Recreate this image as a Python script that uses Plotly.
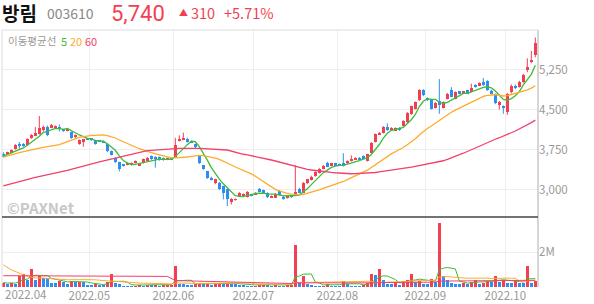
import plotly.graph_objects as go
import pandas as pd

# ---------------- data ----------------
month_labels = ["2022.04", "2022.05", "2022.06", "2022.07", "2022.08", "2022.09", "2022.10"]
month_start_idx = [1, 22, 43, 63, 84, 106, 126]

opens = [3660,3670,3690,3765,3860,3850,3830,3965,4010,4045,4110,4175,4170,4155,4175,4130,4100,4080,3985,3850,
         3890,3960,3950,3930,3920,3905,3860,3720,3590,3515,3465,3465,3460,3505,3450,3500,3535,3625,3615,3610,
         3590,3560,3590,3615,3910,3940,3955,3910,3850,3630,3455,3345,3220,3115,3130,3065,3005,2765,2805,2880,
         2880,2865,2910,2910,3015,2990,2940,2850,2850,2970,2865,2835,2890,2910,3015,2940,3120,3180,3255,3315,
         3390,3490,3455,3490,3475,3490,3490,3535,3565,3600,3625,3535,3690,3890,4035,4065,4180,4115,4115,4160,
         4200,4260,4410,4510,4680,4860,4715,4690,4530,4660,4530,4700,4860,4700,4840,4800,4860,4830,4965,4950,
         5015,5040,4855,4790,4590,4560,4450,4830,4950,4930,5020,5250,5390,5520]
highs = [3700,3710,3750,3850,3890,3870,3960,4040,4170,4380,4200,4200,4230,4200,4220,4140,4140,4090,4030,3940,
         3950,3970,3960,3935,3930,3920,3870,3730,3600,3520,3480,3505,3510,3545,3480,3580,3610,3640,3625,3620,
         3600,3600,3600,3970,4015,4065,3970,3920,3860,3640,3460,3350,3240,3200,3140,3070,3010,2840,2830,2950,
         2930,2970,2920,2950,3030,3000,2950,2890,2935,2990,2880,2890,2900,3455,3030,3140,3200,3260,3340,3400,
         3460,3520,3500,3500,3490,3680,3545,3640,3605,3610,3640,3670,3890,4050,4080,4190,4240,4170,4165,4170,
         4300,4450,4570,4650,4880,4880,4730,4700,4640,5070,4650,4810,4920,4840,4850,4850,4870,4985,4975,5010,
         5090,5050,4870,4800,4660,4580,4810,4970,4970,5040,5170,5460,5600,5850]
lows = [3605,3650,3680,3750,3760,3800,3820,3950,4000,4030,4090,4000,4150,4140,4090,4080,4090,3950,3960,3840,
        3800,3930,3910,3840,3895,3870,3700,3640,3500,3340,3430,3455,3450,3490,3440,3490,3525,3555,3410,3540,
        3540,3550,3550,3600,3900,3930,3880,3870,3770,3480,3370,3200,3170,3100,2990,2815,2690,2720,2790,2870,
        2870,2850,2870,2900,2945,2930,2840,2840,2840,2880,2810,2830,2840,2900,2930,2930,3100,3170,3240,3300,
        3380,3420,3440,3440,3445,3430,3480,3525,3555,3555,3570,3525,3680,3880,4020,4050,4100,4100,4100,4100,
        4180,4240,4400,4500,4660,4750,4660,4500,4520,4420,4520,4690,4730,4690,4790,4790,4790,4820,4910,4940,
        4945,4850,4790,4600,4500,4420,4400,4800,4880,4910,5000,5200,5370,5480]
closes = [3625,3690,3735,3830,3830,3810,3950,4025,4055,4150,4170,4020,4205,4190,4130,4090,4120,3965,4015,3925,
          3940,3945,3930,3850,3905,3880,3720,3655,3515,3390,3445,3495,3500,3535,3470,3565,3595,3565,3565,3550,
          3550,3590,3565,3830,3950,3970,3890,3880,3790,3490,3380,3220,3180,3190,3005,2940,2830,2830,2815,2940,
          2910,2955,2880,2940,2955,2940,2860,2880,2925,2890,2840,2880,2865,2955,2940,3130,3190,3240,3330,3380,
          3440,3430,3490,3455,3455,3440,3535,3565,3595,3565,3580,3660,3880,4035,4065,4180,4115,4160,4150,4115,
          4280,4440,4560,4640,4860,4770,4680,4510,4630,4590,4640,4800,4740,4830,4800,4840,4800,4900,4920,5000,
          4955,4860,4800,4620,4640,4520,4790,4950,4900,5020,5150,5300,5430,5740]
volumes = [260,190,260,190,650,760,420,1085,460,650,560,540,260,260,380,320,230,380,300,310,
           300,130,130,190,130,125,320,760,260,190,115,75,75,115,130,115,150,120,130,110,
           120,140,160,1217,230,190,150,130,200,250,180,200,150,180,210,200,250,200,180,170,
           120,110,100,110,130,150,120,110,120,110,100,120,130,2474,320,650,190,130,115,75,
           115,190,115,115,115,377,190,115,115,115,150,260,760,700,1050,420,230,190,260,130,
           380,420,760,320,380,230,230,510,320,3700,650,420,260,190,190,260,230,320,420,190,
           260,380,320,650,320,420,260,260,380,260,260,1217,260,400]  # thousands of shares

ma20_early_idx = [0, 4, 9, 14]
ma20_early_val = [3609, 3691, 3778, 3841]
ma60_early_idx = [0, 8, 16, 24, 32, 36, 44, 49, 56]
ma60_early_val = [3066, 3229, 3359, 3520, 3660, 3730, 3772, 3770, 3741]
vma20_early_idx = [0, 2, 5, 8, 10, 16]
vma20_early_val = [1270, 990, 700, 514, 514, 417]
vma60_early_idx = [0, 27, 41, 43, 50, 58]
vma60_early_val = [650, 640, 610, 370, 330, 300]

# ---------------- styling ----------------
W, H = 594, 304
ML, MR, MT, MB = 2, 56, 30, 17
PW, PH = W - ML - MR, H - MT - MB
RED = "#f23f52"
BLUE = "#2e8ef2"
C5, C20, C60 = "#3dbb3a", "#ffaa2c", "#f2416b"
GRID = "#eeeeee"
FONT = "Noto Sans CJK KR"


def pxx(x):
    return (x - ML) / PW


def pyy(y):
    return (H - MB - y) / PH


n = len(closes)
idx = list(range(n))
df = pd.DataFrame({"o": opens, "h": highs, "l": lows, "c": closes, "v": [v * 1000 for v in volumes]})
up = [c >= o for o, c in zip(opens, closes)]
# volume bars: red when volume rose versus the previous session, blue otherwise
vol_up = [True] + [volumes[i] > volumes[i - 1] for i in range(1, n)]


def ma_series(values, window, early_idx, early_val):
    s = pd.Series(values).rolling(window).mean()
    xs = list(early_idx) + [i for i in range(window - 1, len(values))]
    ys = list(early_val) + [s[i] for i in range(window - 1, len(values))]
    return xs, ys


fig = go.Figure()

# candle wicks
for flag, col in ((True, RED), (False, BLUE)):
    xs, ys = [], []
    for i in idx:
        if up[i] == flag:
            xs += [i, i, None]
            ys += [lows[i], highs[i], None]
    fig.add_trace(go.Scatter(x=xs, y=ys, mode="lines", line=dict(color=col, width=1),
                             hoverinfo="skip", showlegend=False, xaxis="x", yaxis="y"))

# candle bodies
body_base = [min(o, c) for o, c in zip(opens, closes)]
body_h = [max(abs(c - o), 16) for o, c in zip(opens, closes)]
fig.add_trace(go.Bar(x=idx, y=body_h, base=body_base, width=0.75,
                     marker=dict(color=[RED if u else BLUE for u in up], line=dict(width=0)),
                     showlegend=False, xaxis="x", yaxis="y"))

# price moving averages
ma5 = df["c"].rolling(5, min_periods=1).mean()
fig.add_trace(go.Scatter(x=idx, y=ma5, mode="lines", line=dict(color=C5, width=1.3),
                         showlegend=False, xaxis="x", yaxis="y"))
x20, y20 = ma_series(closes, 20, ma20_early_idx, ma20_early_val)
fig.add_trace(go.Scatter(x=x20, y=y20, mode="lines", line=dict(color=C20, width=1.3),
                         showlegend=False, xaxis="x", yaxis="y"))
x60, y60 = ma_series(closes, 60, ma60_early_idx, ma60_early_val)
fig.add_trace(go.Scatter(x=x60, y=y60, mode="lines", line=dict(color=C60, width=1.3),
                         showlegend=False, xaxis="x", yaxis="y"))

# volume
fig.add_trace(go.Bar(x=idx, y=df["v"], width=0.75,
                     marker=dict(color=[RED if u else BLUE for u in vol_up], line=dict(width=0)),
                     showlegend=False, xaxis="x2", yaxis="y2"))
vma5 = df["v"].rolling(5, min_periods=1).mean()
fig.add_trace(go.Scatter(x=idx, y=vma5, mode="lines", line=dict(color=C5, width=1),
                         showlegend=False, xaxis="x2", yaxis="y2"))
vx20, vy20 = ma_series(volumes, 20, vma20_early_idx, vma20_early_val)
fig.add_trace(go.Scatter(x=vx20, y=[v * 1000 for v in vy20], mode="lines", line=dict(color=C20, width=1),
                         showlegend=False, xaxis="x2", yaxis="y2"))
vx60, vy60 = ma_series(volumes, 60, vma60_early_idx, vma60_early_val)
fig.add_trace(go.Scatter(x=vx60, y=[v * 1000 for v in vy60], mode="lines", line=dict(color=C60, width=1),
                         showlegend=False, xaxis="x2", yaxis="y2"))

xrange = [-0.33, n - 0.33]
grid_x = [m - 0.5 for m in month_start_idx[1:]]
price_dom = [pyy(216.5), 1]
vol_dom = [0, pyy(217.5)]

fig.update_layout(
    width=W, height=H, margin=dict(l=ML, r=MR, t=MT, b=MB),
    paper_bgcolor="white", plot_bgcolor="white", bargap=0, showlegend=False,
    font=dict(family=FONT, color="#999999", size=11),
    xaxis=dict(range=xrange, domain=[0, 1], anchor="y", tickvals=grid_x, showticklabels=False,
               showgrid=True, gridcolor=GRID, gridwidth=1, zeroline=False, ticks="", fixedrange=True),
    yaxis=dict(domain=price_dom, range=[2494, 5991], side="right",
               tickvals=[3000, 3750, 4500, 5250], ticktext=["3,000", "3,750", "4,500", "5,250"],
               showgrid=True, gridcolor=GRID, zeroline=False, ticks="", ticklen=0, ticklabelstandoff=0,
               automargin=False, tickfont=dict(size=11.5, color="#999999")),
    xaxis2=dict(range=xrange, domain=[0, 1], anchor="y2", tickvals=grid_x, ticktext=month_labels[1:],
                showgrid=True, gridcolor=GRID, zeroline=False, ticks="", ticklen=0, automargin=False,
                tickfont=dict(size=11.5, color="#999999")),
    yaxis2=dict(domain=vol_dom, range=[0, 4.0e6], side="right", tickvals=[2e6], ticktext=["2M"],
                showgrid=True, gridcolor=GRID, zeroline=False, ticks="", ticklen=0, ticklabelstandoff=0,
                automargin=False, tickfont=dict(size=11.5, color="#999999")),
)

# frame lines
shapes = [
    dict(type="line", xref="paper", yref="paper", x0=0, x1=0, y0=0, y1=1, line=dict(color="#dddddd", width=1)),
    dict(type="line", xref="paper", yref="paper", x0=1, x1=1, y0=0, y1=1, line=dict(color="#c8c8c8", width=1.5)),
    dict(type="line", xref="paper", yref="paper", x0=0, x1=1, y0=1, y1=1, line=dict(color="#dddddd", width=1)),
    dict(type="line", xref="paper", yref="paper", x0=0, x1=1, y0=pyy(217), y1=pyy(217),
         line=dict(color="#444444", width=1.5)),
]
fig.update_layout(shapes=shapes)

ann = [
    dict(x=pxx(0), y=pyy(12.5), text="<b>방림</b>", font=dict(size=19, color="#111111", family=FONT)),
    dict(x=pxx(45), y=pyy(12.5), text="003610", font=dict(size=14, color="#888888", family=FONT)),
    dict(x=pxx(109), y=pyy(13), text="5,740", font=dict(size=22, color=RED, family="Roboto")),
    dict(x=pxx(177), y=pyy(12), text="▲", font=dict(size=9, color=RED, family=FONT)),
    dict(x=pxx(189), y=pyy(12.5), text="310", font=dict(size=14.5, color=RED, family=FONT)),
    dict(x=pxx(222), y=pyy(12.5), text="+5.71%", font=dict(size=14.5, color=RED, family=FONT)),
    dict(x=pxx(6), y=pyy(41), text="이동평균선", font=dict(size=10.5, color="#999999", family=FONT)),
    dict(x=pxx(59), y=pyy(41), text="5", font=dict(size=11, color=C5, family=FONT)),
    dict(x=pxx(68), y=pyy(41), text="20", font=dict(size=11, color=C20, family=FONT)),
    dict(x=pxx(83), y=pyy(41), text="60", font=dict(size=11, color=C60, family=FONT)),
    dict(x=pxx(5), y=pyy(207), text="<b>©PAXNet</b>", font=dict(size=15, color="#c8c8c8", family=FONT)),
    dict(x=pxx(3), y=pyy(293.5), text=month_labels[0], font=dict(size=11.5, color="#999999", family=FONT)),
]
for a in ann:
    a.update(xref="paper", yref="paper", xanchor="left", yanchor="middle", showarrow=False)
fig.update_layout(annotations=ann)

fig.write_html("out.html")
